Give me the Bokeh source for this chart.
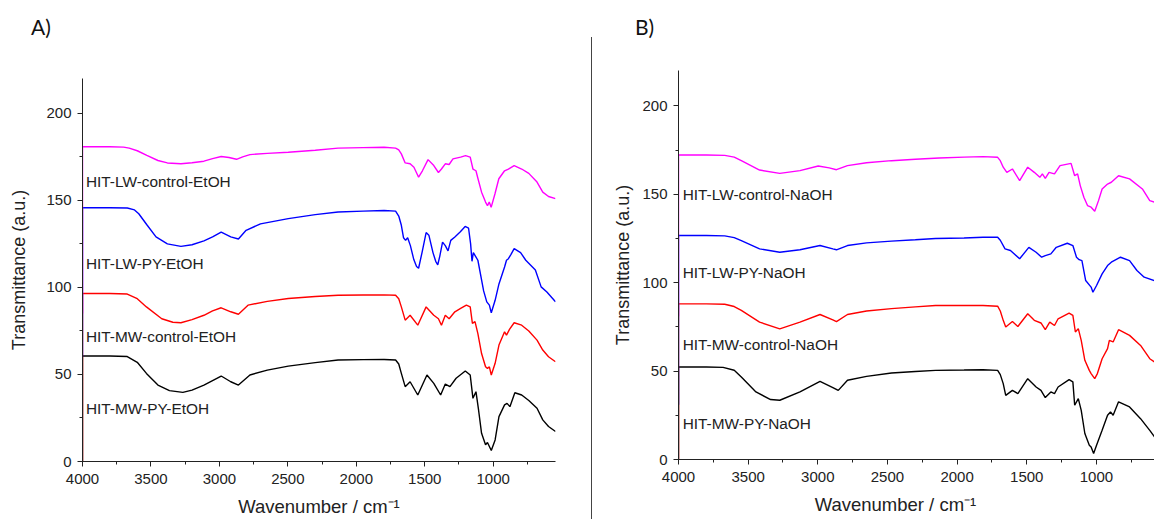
from bokeh.plotting import figure
from bokeh.models import Range1d, SingleIntervalTicker, Label, Div
from bokeh.layouts import row, column
from bokeh.embed import file_html
from bokeh.resources import INLINE

# ---------------- Panel A (EtOH) ----------------
a_lw_ctrl_wn = [4000, 3900, 3800, 3700, 3659, 3600, 3530, 3449, 3380, 3281, 3200, 3113, 3050, 2987, 2930, 2875, 2830, 2777, 2650, 2497, 2300, 2133, 1950, 1797, 1713, 1690, 1671, 1643, 1607, 1579, 1545, 1517, 1476, 1434, 1400, 1378, 1350, 1322, 1294, 1238, 1202, 1168, 1148, 1126, 1113, 1085, 1056, 1042, 1029, 1015, 987, 959, 917, 889, 847, 792, 740, 680, 638, 596, 545]
a_lw_ctrl_t = [180.8, 180.8, 180.8, 180.6, 180.0, 178.5, 175.8, 172.9, 171.5, 171.0, 171.6, 172.5, 174.0, 175.2, 174.6, 173.6, 175.0, 176.3, 177.0, 177.6, 178.8, 180.0, 180.3, 180.5, 180.0, 179.0, 176.7, 171.5, 171.0, 169.0, 163.3, 167.0, 173.4, 170.0, 166.0, 168.0, 171.0, 170.6, 173.8, 174.8, 175.7, 174.8, 168.0, 167.0, 163.0, 154.7, 149.0, 147.0, 149.0, 146.0, 153.8, 162.4, 167.0, 168.0, 170.0, 168.0, 165.5, 160.5, 154.7, 152.2, 151.0]

a_lw_py_wn = [4000, 3800, 3673, 3620, 3589, 3530, 3463, 3380, 3281, 3200, 3113, 3050, 2987, 2917, 2861, 2805, 2700, 2497, 2300, 2133, 1950, 1797, 1713, 1690, 1672, 1655, 1640, 1625, 1605, 1580, 1560, 1545, 1520, 1490, 1470, 1440, 1420, 1405, 1390, 1370, 1350, 1330, 1310, 1280, 1240, 1205, 1180, 1165, 1155, 1145, 1130, 1112, 1070, 1047, 1028, 1014, 986, 958, 917, 903, 889, 870, 847, 800, 762, 692, 650, 608, 545]
a_lw_py_t = [145.8, 145.8, 145.6, 144.5, 142.3, 136, 129, 125, 123.6, 124.5, 126.7, 129, 131.8, 129, 127.8, 132.8, 136.5, 139.5, 141.8, 143.3, 143.8, 144.2, 143.8, 141, 136, 128.5, 127, 128.5, 124, 116, 112, 111, 120, 131.5, 130, 120, 115, 113, 118, 126, 124, 121, 127, 129, 132, 135, 134, 125, 115, 120, 118, 115.6, 98, 91.7, 89.8, 85.4, 92.6, 102, 111.7, 115.6, 116.5, 119, 122.3, 120, 115.6, 110, 100.3, 97.4, 91.7]

a_mw_ctrl_wn = [4000, 3800, 3673, 3600, 3533, 3421, 3340, 3281, 3200, 3113, 3050, 2987, 2917, 2861, 2791, 2650, 2497, 2300, 2133, 1950, 1797, 1713, 1690, 1671, 1643, 1607, 1551, 1490, 1434, 1400, 1378, 1350, 1322, 1280, 1238, 1196, 1168, 1152, 1133, 1112, 1085, 1056, 1042, 1028, 1014, 986, 958, 917, 903, 880, 847, 792, 740, 680, 638, 596, 545]
a_mw_ctrl_t = [96.5, 96.5, 96.2, 93.5, 88.8, 82, 80, 79.7, 81.5, 84, 86.5, 88.3, 86, 84.6, 89.8, 92, 93.6, 94.8, 95.5, 95.6, 95.7, 95.5, 93.5, 88.8, 81.2, 84, 78.3, 88.8, 84, 82, 78.3, 84, 82, 86, 87.9, 89.8, 88.8, 79.3, 80.3, 73.5, 62, 54.4, 53.5, 54.4, 49.7, 56.4, 66.9, 74.5, 72.6, 76, 79.7, 78.3, 75, 69.7, 64, 60.2, 57.3]

a_mw_py_wn = [4000, 3800, 3673, 3600, 3533, 3449, 3365, 3267, 3200, 3113, 3050, 2987, 2917, 2861, 2777, 2650, 2497, 2300, 2133, 1950, 1797, 1713, 1690, 1671, 1643, 1607, 1551, 1484, 1434, 1384, 1350, 1316, 1271, 1204, 1168, 1148, 1126, 1107, 1085, 1056, 1042, 1014, 986, 958, 917, 899, 878, 842, 792, 740, 680, 638, 596, 545]
a_mw_py_t = [60.6, 60.6, 60.3, 57, 50.6, 43.9, 40.7, 39.7, 41, 43.9, 46.5, 49.1, 45.8, 43.9, 49.7, 52.5, 54.8, 56.8, 58.3, 58.5, 58.6, 58.3, 56, 50.6, 43, 45.8, 38.2, 49.7, 44.9, 38.2, 44.5, 43, 47.8, 52, 49.7, 36.3, 40.1, 29.6, 16.2, 9.6, 10.9, 6.3, 12.4, 25.8, 32.5, 33.4, 31.5, 39.5, 38.2, 35, 30.6, 23.9, 20.1, 17.2]

# value of the first (drop) point at 4000 cm-1 for each trace
a_drop = [85, 60, 0, 0]
a_names = ["HIT-LW-control-EtOH", "HIT-LW-PY-EtOH", "HIT-MW-control-EtOH", "HIT-MW-PY-EtOH"]
a_label_y = [161, 114, 72, 30.5]

# ---------------- Panel B (NaOH) ----------------
b_lw_ctrl_wn = [4000, 3800, 3668, 3600, 3549, 3418, 3273, 3128, 2997, 2918, 2866, 2787, 2650, 2471, 2300, 2129, 1950, 1814, 1709, 1690, 1669, 1643, 1603, 1551, 1493, 1446, 1406, 1388, 1367, 1340, 1301, 1261, 1182, 1156, 1135, 1116, 1090, 1064, 1038, 1012, 985, 959, 920, 893, 841, 762, 670, 617, 583]
b_lw_ctrl_t = [172.2, 172.2, 172.0, 171, 169, 163.7, 161.8, 163.4, 166, 164.9, 163.9, 166.2, 167.8, 169, 169.8, 170.5, 171, 171.3, 170.9, 169, 165.3, 162.4, 164.3, 157.7, 165.3, 162.4, 159.6, 161.5, 159, 162.4, 161.5, 166.2, 167.5, 160.5, 161.5, 154.9, 148.3, 143.6, 142.7, 140.4, 146.4, 153, 155.8, 156.8, 160.5, 158.7, 153, 146.4, 145.5]

b_lw_py_wn = [4000, 3800, 3668, 3600, 3549, 3418, 3273, 3128, 2984, 2892, 2866, 2787, 2650, 2471, 2300, 2155, 1950, 1814, 1709, 1690, 1656, 1617, 1551, 1485, 1433, 1393, 1367, 1327, 1288, 1209, 1169, 1143, 1124, 1104, 1077, 1038, 1025, 999, 959, 920, 893, 827, 762, 709, 657, 583]
b_lw_py_t = [126.7, 126.7, 126.5, 125.5, 123.8, 119.1, 117.2, 118.6, 121, 119.1, 118.6, 121, 122.5, 123.5, 124.3, 125, 125.3, 125.7, 125.7, 124, 119.1, 118.2, 113.5, 120, 117.2, 114.4, 115.3, 116.3, 120, 122.3, 121, 114.4, 113, 112.5, 101.2, 97.5, 94.6, 98.4, 105, 109.7, 111.6, 114.4, 112.5, 106.9, 103.1, 101.2]

b_mw_ctrl_wn = [4000, 3800, 3668, 3600, 3549, 3418, 3273, 3128, 2984, 2892, 2866, 2787, 2650, 2471, 2300, 2155, 1950, 1814, 1709, 1690, 1669, 1651, 1603, 1564, 1493, 1446, 1398, 1367, 1335, 1301, 1275, 1196, 1169, 1151, 1130, 1109, 1083, 1051, 1038, 1012, 993, 959, 920, 907, 880, 841, 762, 683, 617, 583]
b_mw_ctrl_t = [88, 88, 87.8, 86.5, 84.3, 77.7, 73.9, 77.7, 82, 79, 78, 82, 84, 85.3, 86.3, 87.1, 87.1, 87.1, 86.7, 84, 78.7, 74.9, 78, 75.2, 82.4, 78.7, 77.2, 73.4, 77.7, 75.8, 79.6, 82.8, 81.5, 72.1, 74, 67.4, 56.1, 50.4, 48.6, 45.7, 48.6, 57, 62.7, 67.4, 66.5, 73.4, 70.2, 64.5, 57, 55.2]

b_mw_py_wn = [4000, 3800, 3680, 3600, 3549, 3444, 3339, 3273, 3128, 2984, 2892, 2853, 2787, 2650, 2471, 2300, 2155, 1950, 1814, 1709, 1690, 1669, 1651, 1603, 1564, 1493, 1433, 1398, 1367, 1327, 1301, 1275, 1196, 1169, 1156, 1130, 1109, 1083, 1051, 1038, 1020, 999, 959, 920, 899, 880, 841, 762, 683, 617, 583]
b_mw_py_t = [52.3, 52.3, 52.1, 50.5, 46.7, 38.2, 33.9, 33.5, 38.2, 44.2, 40.7, 39.1, 44.8, 47, 48.9, 49.8, 50.4, 50.6, 50.8, 50.4, 48, 42.9, 36.3, 39.1, 37.3, 45.7, 41, 39.1, 35, 38.2, 37.3, 41, 45.2, 43.9, 30.7, 34.4, 27.8, 14.7, 8.1, 7.1, 3.4, 8.1, 16.5, 25, 26.9, 25, 32.6, 29.7, 23.1, 16.5, 12.8]

b_drop = [81, 31, 0, 0]
b_names = ["HIT-LW-control-NaOH", "HIT-LW-PY-NaOH", "HIT-MW-control-NaOH", "HIT-MW-PY-NaOH"]
b_label_y = [150, 106, 65, 20.5]

colors = ["#FF00FF", "#0000FF", "#FF0000", "#000000"]
x_title = "Wavenumber / cm\u207b\u00b9"
y_title = "Transmittance (a.u.)"

FONT = "Liberation Sans"


def make_panel(series, drops, names, label_y, x_end, width, height, bl, br, bt, bb, lab_x,
               ylab_standoff, xlab_pad):
    p = figure(width=width, height=height, x_range=Range1d(4000, x_end), y_range=Range1d(0, 220),
               output_backend="svg", toolbar_location=None, tools="",
               min_border_left=bl, min_border_right=br, min_border_top=bt, min_border_bottom=bb)
    p.outline_line_color = None
    p.xgrid.visible = False
    p.ygrid.visible = False
    p.background_fill_color = "white"
    p.border_fill_color = "white"

    p.xaxis.ticker = SingleIntervalTicker(interval=500, num_minor_ticks=2)
    p.yaxis.ticker = SingleIntervalTicker(interval=50, num_minor_ticks=2)
    for ax in (p.xaxis, p.yaxis):
        ax.axis_line_color = "#222222"
        ax.major_tick_line_color = "#222222"
        ax.minor_tick_line_color = "#222222"
        ax.major_tick_in = 0
        ax.major_tick_out = 5
        ax.minor_tick_in = 0
        ax.minor_tick_out = 3
        ax.major_label_text_font = FONT
        ax.major_label_text_font_size = "15px"
        ax.major_label_text_color = "#222222"
        ax.axis_label_text_font = FONT
        ax.axis_label_text_font_style = "normal"
        ax.axis_label_text_color = "#222222"
    p.xaxis.axis_label = x_title + xlab_pad
    p.xaxis.axis_label_text_font_size = "18.5px"
    p.xaxis.major_label_standoff = 7
    p.xaxis.axis_label_standoff = 9
    p.yaxis.axis_label = y_title
    p.yaxis.axis_label_text_font_size = "18px"
    p.yaxis.major_label_standoff = 6
    p.yaxis.axis_label_standoff = ylab_standoff

    # draw bottom trace first so the top (magenta) trace lies above
    for (wn, t), d, c in reversed(list(zip(series, drops, colors))):
        xs = [wn[0]] + list(wn)
        ys = [d] + list(t)
        p.line(xs, ys, line_color=c, line_width=1.4)

    for name, ly in zip(names, label_y):
        p.add_layout(Label(x=lab_x, y=ly, text=name, text_font=FONT, text_font_size="15.4px",
                           text_color="#222222", text_baseline="middle", text_align="left"))
    return p


def tag_div(text, left):
    return Div(text=text, width=40, height=24, margin=(15, 0, 0, left),
               styles={"font-family": "Lato", "font-size": "21px", "color": "#111111",
                       "line-height": "24px"})


pA = make_panel([(a_lw_ctrl_wn, a_lw_ctrl_t), (a_lw_py_wn, a_lw_py_t),
                 (a_mw_ctrl_wn, a_mw_ctrl_t), (a_mw_py_wn, a_mw_py_t)],
                a_drop, a_names, a_label_y, 545, 591, 480, 82, 36, 39, 57, 3975, 14, "")

pB = make_panel([(b_lw_ctrl_wn, b_lw_ctrl_t), (b_lw_py_wn, b_lw_py_t),
                 (b_mw_ctrl_wn, b_mw_ctrl_t), (b_mw_py_wn, b_mw_py_t)],
                b_drop, b_names, b_label_y, 583, 562, 480, 86, 0, 31, 60, 3970, 6,
                "\u00a0\u2003\u2003")

colA = column(tag_div("A)", 31), pA, spacing=0)
divider = Div(text="", width=1, height=482, margin=(37, 0, 0, 0),
              styles={"background-color": "#444444"})
colB = column(tag_div("B)", 43), pB, spacing=0)

layout = row(colA, divider, colB, spacing=0)

open("out.html", "w").write(file_html(layout, INLINE))
